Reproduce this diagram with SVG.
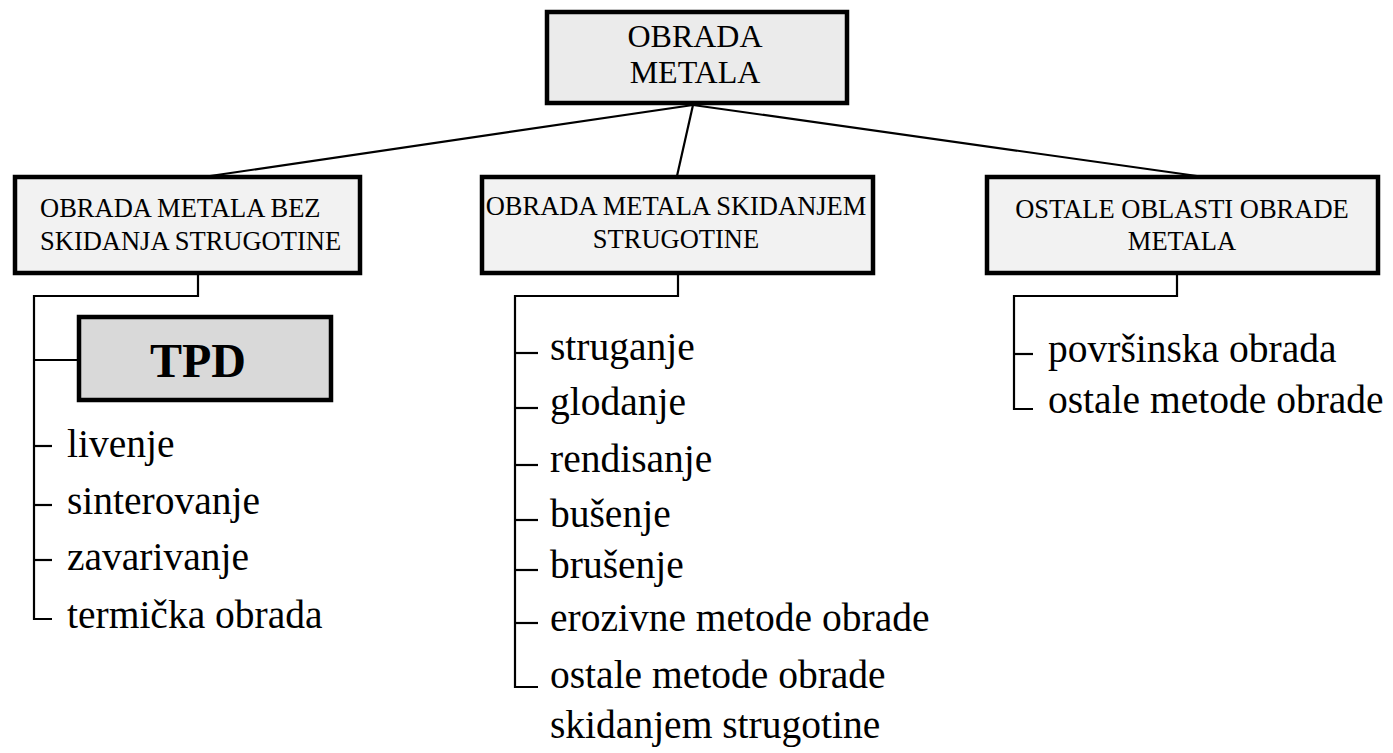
<svg xmlns="http://www.w3.org/2000/svg" width="1393" height="753" viewBox="0 0 1393 753">
<style>
.box{stroke:#000;stroke-width:4.5}
.cn{fill:none;stroke:#000;stroke-width:2.2}
</style>
<rect width="1393" height="753" fill="#fff"/>
<g id="connectors" class="cn">
<line x1="693" y1="105" x2="210" y2="176"/>
<line x1="693" y1="105" x2="677" y2="176"/>
<line x1="693" y1="105" x2="1197" y2="176"/>
<polyline points="198,275 198,296 34,296 34,619 52,619"/>
<line x1="34" y1="360" x2="79" y2="360"/>
<line x1="34" y1="446" x2="52" y2="446"/>
<line x1="34" y1="505" x2="52" y2="505"/>
<line x1="34" y1="560" x2="52" y2="560"/>
<polyline points="678,275 678,296 515,296 515,687 538,687"/>
<line x1="515" y1="353" x2="538" y2="353"/>
<line x1="515" y1="408" x2="538" y2="408"/>
<line x1="515" y1="465" x2="538" y2="465"/>
<line x1="515" y1="520" x2="538" y2="520"/>
<line x1="515" y1="570" x2="538" y2="570"/>
<line x1="515" y1="623" x2="538" y2="623"/>
<polyline points="1177,275 1177,296 1014,296 1014,409 1033,409"/>
<line x1="1014" y1="354" x2="1033" y2="354"/>
</g>
<g id="root" font-family="Liberation Serif, serif" font-size="32" fill="#000">
<rect class="box" x="547" y="12" width="300" height="91" fill="#ebebeb"/>
<text x="695" y="47" text-anchor="middle">OBRADA</text>
<text x="695" y="83" text-anchor="middle">METALA</text>
</g>
<g id="bez" font-family="Liberation Serif, serif" font-size="26.5" fill="#000">
<rect class="box" x="15" y="177" width="345" height="96" fill="#f2f2f2"/>
<text x="40" y="217">OBRADA METALA BEZ</text>
<text x="40" y="250">SKIDANJA STRUGOTINE</text>
</g>
<g id="skidanjem" font-family="Liberation Serif, serif" font-size="26.5" fill="#000">
<rect class="box" x="482" y="177" width="391" height="96" fill="#f2f2f2"/>
<text x="676" y="215" text-anchor="middle">OBRADA METALA SKIDANJEM</text>
<text x="676" y="248" text-anchor="middle">STRUGOTINE</text>
</g>
<g id="ostale" font-family="Liberation Serif, serif" font-size="26.5" fill="#000">
<rect class="box" x="987" y="177" width="391" height="96" fill="#f2f2f2"/>
<text x="1182" y="218" text-anchor="middle">OSTALE OBLASTI OBRADE</text>
<text x="1182" y="250" text-anchor="middle">METALA</text>
</g>
<g id="tpd">
<rect class="box" x="79" y="317" width="252" height="83" fill="#d9d9d9"/>
<text x="198" y="377" text-anchor="middle" font-family="Liberation Serif, serif" font-size="48" font-weight="bold">TPD</text>
</g>
<g id="items-left" font-family="Liberation Serif, serif" font-size="39.5" fill="#000">
<text x="67" y="457">livenje</text>
<text x="67" y="514">sinterovanje</text>
<text x="67" y="570">zavarivanje</text>
<text x="67" y="628">termička obrada</text>
</g>
<g id="items-middle" font-family="Liberation Serif, serif" font-size="39.5" fill="#000">
<text x="550" y="360">struganje</text>
<text x="550" y="415">glodanje</text>
<text x="550" y="472">rendisanje</text>
<text x="550" y="527">bušenje</text>
<text x="550" y="578">brušenje</text>
<text x="550" y="631">erozivne metode obrade</text>
<text x="550" y="688">ostale metode obrade</text>
<text x="550" y="738">skidanjem strugotine</text>
</g>
<g id="items-right" font-family="Liberation Serif, serif" font-size="39.5" fill="#000">
<text x="1048" y="362">površinska obrada</text>
<text x="1048" y="413">ostale metode obrade</text>
</g>
</svg>
